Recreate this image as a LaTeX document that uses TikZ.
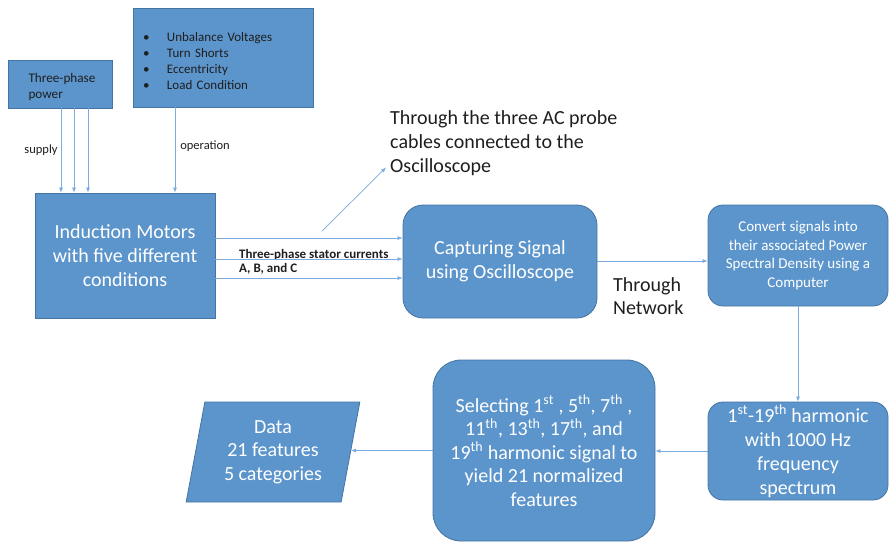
\documentclass[tikz,border=0pt]{standalone}
\usepackage{fontspec}
\setmainfont{Carlito}
\usetikzlibrary{arrows.meta,shapes.geometric}
\definecolor{boxfill}{RGB}{92,149,203}
\definecolor{boxline}{RGB}{68,116,162}
\definecolor{wirecol}{RGB}{122,170,222}
\definecolor{inktext}{RGB}{30,30,30}
\tikzset{
  box/.style={draw=boxline, fill=boxfill, line width=0.8pt, text=white, align=center, inner sep=0pt},
  wire/.style={draw=wirecol, line width=0.7pt, -{Latex[length=5pt,width=4pt]}},
  note/.style={text=inktext, align=left, inner sep=0pt},
}
\begin{document}
\begin{tikzpicture}[x=1pt,y=-1pt]
\useasboundingbox (0,0) rectangle (889,542);

\node[box, minimum width=104, minimum height=48] (power) at (60,84) {};
\node[note, font=\fontsize{13.2}{16}\selectfont] (powertext) at ([shift={(2,3)}]power.center)
  {Three-phase\\power};
\node[box, minimum width=180, minimum height=99] (cond) at (223,57.5) {};
\node[note, text width=160, font=\fontsize{13}{16}\selectfont] (condtext) at ([shift={(0,4)}]cond.center)
  {\makebox[24pt][l]{\textbullet}Unbalance Voltages\\
   \makebox[24pt][l]{\textbullet}Turn Shorts\\
   \makebox[24pt][l]{\textbullet}Eccentricity\\
   \makebox[24pt][l]{\textbullet}Load Condition};

\node[box, minimum width=180, minimum height=125, font=\fontsize{20}{24}\selectfont]
  (motor) at (125,255.5) {Induction Motors\\with five different\\conditions};
\node[box, rounded corners=20, minimum width=194, minimum height=113,
  font=\fontsize{20}{24}\selectfont] (capture) at (500,261.5) {Capturing Signal\\using Oscilloscope};
\node[box, rounded corners=15, minimum width=180, minimum height=101,
  font=\fontsize{15}{18.5}\selectfont] (convert) at (798,255.5)
  {Convert signals into\\their associated Power\\Spectral Density using a\\Computer};
\node[box, rounded corners=15, minimum width=180, minimum height=98,
  font=\fontsize{20}{24}\selectfont] (harmonic) at (798,451)
  {1\textsuperscript{st}-19\textsuperscript{th} harmonic\\with 1000 Hz\\frequency\\spectrum};
\node[box, rounded corners=28, minimum width=222, minimum height=181,
  font=\fontsize{20}{23.5}\selectfont] (select) at (544,450.5)
  {Selecting 1\textsuperscript{st} , 5\textsuperscript{th}, 7\textsuperscript{th} ,\\
   11\textsuperscript{th}, 13\textsuperscript{th}, 17\textsuperscript{th}, and\\
   19\textsuperscript{th} harmonic signal to\\yield 21 normalized\\features};
\node[box, trapezium, trapezium left angle=78, trapezium right angle=102, trapezium stretches=true,
  minimum width=174, minimum height=100, font=\fontsize{20}{23.5}\selectfont]
  (data) at (273,452) {Data\\21 features\\5 categories};

\node[note, font=\fontsize{12.5}{14}\selectfont] (supply) at (41,150) {supply};
\node[note, font=\fontsize{12.5}{14}\selectfont] (operation) at (205,146) {operation};
\node[note, anchor=west, font=\bfseries\fontsize{13}{14}\selectfont] (stator) at (239,262)
  {Three-phase stator currents\\A, B, and C};
\node[note, anchor=north west, font=\fontsize{20}{24}\selectfont] (probe) at (390,110)
  {Through the three AC probe\\cables connected to the\\Oscilloscope};
\node[note, anchor=west, font=\fontsize{20}{23}\selectfont] (network) at (613,296.5) {Through\\Network};

\foreach \dx in {1,14,28}
  \draw[wire] ([xshift=\dx pt]power.south) -- ([xshift=\dx pt]power.south |- motor.north);
\draw[wire] ([xshift=-48pt]cond.south) -- ([xshift=-48pt]cond.south |- motor.north);
\foreach \ay in {238,259,278}
  \draw[wire] (motor.east |- 0,\ay) -- (capture.west |- 0,\ay);
\coordinate (tap) at (322,231);
\draw[wire] (tap) -- ([shift={(-4pt,8pt)}]probe.south west);
\draw[wire] (capture.east |- 0,261) -- (convert.west |- 0,261);
\draw[wire] (convert) -- (harmonic);
\draw[wire] (harmonic.west) -- (harmonic.west -| select.east);
\draw[wire] (select.west) -- (select.west -| data.east);
\end{tikzpicture}
\end{document}
